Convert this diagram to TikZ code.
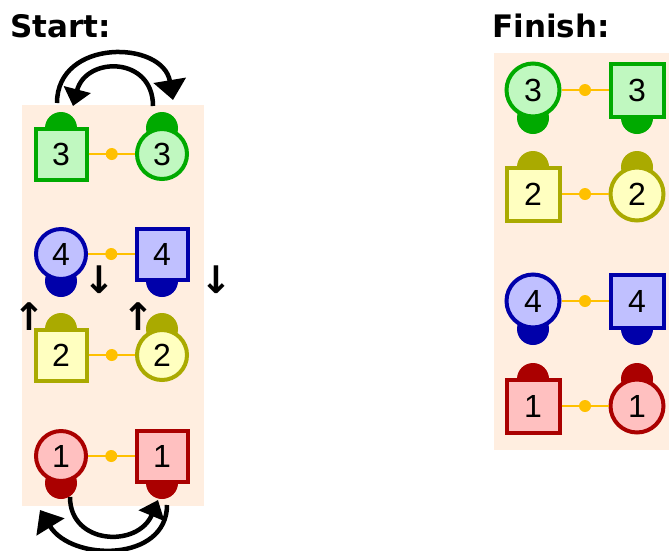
\documentclass[tikz,border=0pt]{standalone}
\usepackage{fontspec}
\usetikzlibrary{arrows.meta,calc}
\newfontfamily\titlefont{DejaVu Sans}
\newfontfamily\digitfont{Liberation Sans}
\newfontfamily\symfont{DejaVu Sans}
\definecolor{bgc}{RGB}{255,238,224}
\definecolor{conncol}{RGB}{255,192,0}
\definecolor{gS}{RGB}{0,170,0}\definecolor{gF}{RGB}{192,248,192}
\definecolor{bS}{RGB}{0,0,170}\definecolor{bF}{RGB}{192,192,255}
\definecolor{oS}{RGB}{170,170,0}\definecolor{oF}{RGB}{255,255,192}
\definecolor{rS}{RGB}{170,0,0}\definecolor{rF}{RGB}{255,192,192}
\tikzset{
  sq/.style={rectangle, minimum size=51pt, line width=4pt, inner sep=0pt, font=\digitfont\fontsize{32}{36}\selectfont},
  sqb/.style={sq, minimum size=53pt},
  cir/.style={circle, minimum size=50pt, line width=4pt, inner sep=0pt, font=\digitfont\fontsize{32}{36}\selectfont},
  cirb/.style={cir, minimum size=53pt},
  gn/.style={draw=gS, fill=gF},
  bn/.style={draw=bS, fill=bF},
  on/.style={draw=oS, fill=oF},
  rn/.style={draw=rS, fill=rF},
  conn/.style={draw=conncol, line width=2pt},
  swapout/.style={line width=4.5pt, -{Triangle[length=20pt,width=32pt]}},
  swapin/.style={line width=4.5pt, -{Triangle[length=17pt,width=27pt]}},
  title/.style={anchor=base west, inner sep=0pt, font=\titlefont\bfseries\fontsize{31}{36}\selectfont},
  small/.style={inner sep=0pt, font=\symfont\bfseries\fontsize{38}{40}\selectfont},
}
\newcommand\knob[3]{\fill[#1] ($(#2)+(0,#3)$) circle[radius=16pt];}
\newcommand\link[2]{\draw[conn] (#1) -- (#2); \fill[conncol] ($(#1)!0.5!(#2)$) circle[radius=6pt];}
\begin{document}
\begin{tikzpicture}[x=1pt,y=-1pt]
\useasboundingbox (0,0) rectangle (669,550);
% backgrounds
\fill[bgc] (22,105) rectangle (204,506);
\fill[bgc] (494,53) rectangle (669,450);
% titles
\node[title] (tstart) at (10,37) {Start:};
\node[title] (tfinish) at (492,37) {Finish:};
% ---- left panel coordinates
\coordinate (pL1) at (61,154); \coordinate (pR1) at (162,154);
\coordinate (pL2) at (61,254); \coordinate (pR2) at (162,254);
\coordinate (pL3) at (61,355); \coordinate (pR3) at (162,355);
\coordinate (pL4) at (61,456); \coordinate (pR4) at (162,456);
% knobs
\knob{gS}{pL1}{-26}\knob{gS}{pR1}{-26}
\knob{bS}{pL2}{27}\knob{bS}{pR2}{27}
\knob{oS}{pL3}{-26}\knob{oS}{pR3}{-26}
\knob{rS}{pL4}{27}\knob{rS}{pR4}{27}
% nodes
\node[sq,gn] (s3) at (pL1) {3};
\node[cir,gn] (c3) at (pR1) {3};
\node[cir,bn] (c4) at (pL2) {4};
\node[sq,bn] (s4) at (pR2) {4};
\node[sq,on] (s2) at (pL3) {2};
\node[cir,on] (c2) at (pR3) {2};
\node[cir,rn] (c1) at (pL4) {1};
\node[sq,rn] (s1) at (pR4) {1};
\link{s3.east}{c3.west}
\link{c4.east}{s4.west}
\link{s2.east}{c2.west}
\link{c1.east}{s1.west}
% swap arrows top
\coordinate (a1s) at (57,103); \coordinate (a1e) at (173,100);
\coordinate (a2s) at (153,106); \coordinate (a2e) at (73,106);
\draw[swapout] (a1s) .. controls (57,38) and (163,40) .. (a1e);
\draw[swapin] (a2s) .. controls (153,56) and (86,56) .. (a2e);
% swap arrows bottom
\coordinate (b1s) at (70,497); \coordinate (b1e) at (158,500);
\coordinate (b2s) at (167,505); \coordinate (b2e) at (40,510);
\draw[swapin] (b1s) .. controls (70,545) and (138,548) .. (b1e);
\draw[swapout] (b2s) .. controls (167,562) and (72,562) .. (b2e);
% small arrows
\node[small] (d1) at (99.5,280) {↓};
\node[small] (d2) at (216.5,280) {↓};
\node[small] (u1) at (29,317) {↑};
\node[small] (u2) at (138,317) {↑};
% ---- right panel
\coordinate (qL1) at (533,90); \coordinate (qR1) at (637,90);
\coordinate (qL2) at (533,194); \coordinate (qR2) at (637,194);
\coordinate (qL3) at (533,301); \coordinate (qR3) at (637,301);
\coordinate (qL4) at (533,406); \coordinate (qR4) at (637,406);
\knob{gS}{qL1}{28}\knob{gS}{qR1}{28}
\knob{oS}{qL2}{-27}\knob{oS}{qR2}{-27}
\knob{bS}{qL3}{28}\knob{bS}{qR3}{28}
\knob{rS}{qL4}{-27}\knob{rS}{qR4}{-27}
\node[cirb,gn] (fc3) at (qL1) {3};
\node[sqb,gn] (fs3) at (qR1) {3};
\node[sqb,on] (fs2) at (qL2) {2};
\node[cirb,on] (fc2) at (qR2) {2};
\node[cirb,bn] (fc4) at (qL3) {4};
\node[sqb,bn] (fs4) at (qR3) {4};
\node[sqb,rn] (fs1) at (qL4) {1};
\node[cirb,rn] (fc1) at (qR4) {1};
\link{fc3.east}{fs3.west}
\link{fs2.east}{fc2.west}
\link{fc4.east}{fs4.west}
\link{fs1.east}{fc1.west}
\end{tikzpicture}
\end{document}
